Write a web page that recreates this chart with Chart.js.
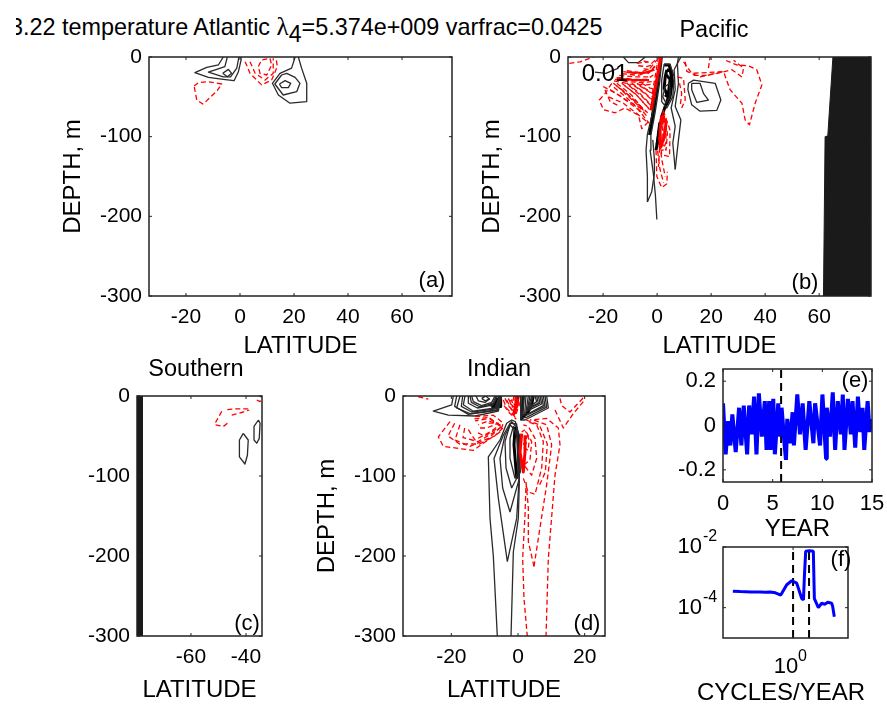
<!DOCTYPE html>
<html>
<head>
<meta charset="utf-8">
<title>EOF 4 temperature</title>
<script src="https://cdn.jsdelivr.net/npm/chart.js@4"></script>
<style>
  html, body { margin: 0; background: #fff; overflow: hidden; }
  #page { position: relative; width: 887px; height: 711px; overflow: hidden; }
  canvas { position: absolute; }
  #maintitle { position: absolute; left: 16px; top: 10px; width: 600px; height: 44px; overflow: hidden; white-space: nowrap;
    font: 23.4px "Liberation Sans", Arial, sans-serif; color: #000; }
  #maintitle .inner { position: absolute; left: -6px; top: 3px; }
  #maintitle .sym { font-family: "Liberation Serif", serif; font-size: 25px; }
  #maintitle sub { font-size: 23px; line-height: 0; vertical-align: -7px; }
</style>
</head>
<body>
<div id="page">
  <div id="maintitle"><span class="inner">3.22 temperature Atlantic <span class="sym">λ</span><sub>4</sub>=5.374e+009 varfrac=0.0425</span></div>
</div>
<script>
// tick labels
const depthTicks = [0, -100, -200, -300];
const latTicksWide = [-20, 0, 20, 40, 60];
const latTicksSouth = [-60, -40];
const latTicksIndian = [-20, 0, 20];
const yearTicks = [0, 5, 10, 15];
const pcTicks = [-0.2, 0, 0.2];
const freqTicks = [1];
const specTicks = [1e-2, 1e-4];

// (a) Atlantic contours, [latitude, depth]
const atlBlack = [
  [[-6.2,0],[-8,-10],[-12.3,-13],[-16.7,-19.7],[-11.7,-25.5],[-6.2,-28],[-2.2,-29.7],[-0.6,-18.4],[0.4,-3.8],[0.4,0]],
  [[-4.7,0],[-5.6,-12],[-11.7,-19],[-6.2,-25],[-3.5,-25],[-1.2,-14],[-0.4,0]],
  [[-6.4,-20.5],[-4.3,-15.5],[-3.1,-20.5],[-4.7,-24.7],[-6.4,-20.5]],
  [[20.4,0],[19.1,-14],[14.8,-20.5],[12,-33],[14.2,-47.7],[18.5,-58],[24.7,-56],[24.7,-33],[22.8,-14],[21.6,0]],
  [[15.4,-22.6],[12.9,-33.9],[16,-47.7],[21,-43.5],[22.2,-33],[20.4,-25.5],[17.3,-20.5],[15.4,-22.6]],
  [[14.6,-33.9],[16.7,-29.7],[18.8,-33],[17.9,-38.5],[15.4,-38.5],[14.6,-33.9]]
];
const atlRed = [
  [[-17,-36.4],[-15.4,-32.2],[-11.7,-31],[-6.8,-33.9],[-8.4,-42],[-12.3,-54.8],[-13.8,-59],[-16,-54],[-17,-36.4]],
  [[1.9,-5.9],[3.7,-20.5],[8,-35],[11.7,-29],[13.8,-12],[13.3,0]],
  [[3.7,-6],[5.6,-20.5],[9.3,-29],[12.3,-20.5],[12.3,-1.7]],
  [[6.8,-12],[8,-3.8],[11.1,-1.7],[11.7,-10],[9.9,-22.6],[7.4,-20.5],[6.8,-12]]
];

// (b) Pacific contours
const pacLand = [[65.1,0],[63.5,-83],[63.2,-99],[62.2,-100],[61.6,-300],[80,-300],[80,0]];
const pacBlack = [
  [[-12.5,0],[-10.6,-7],[-6.9,-7],[-4.4,0]],
  [[-23,-19],[-19,-20.5],[-14.3,-14]],
  [[-0.1,-204],[-0.6,-175],[-1.4,-146],[-2.6,-117],[-2.3,-98],[-0.7,-69],[0.9,-33],[1.9,0]],
  [[-3.6,-182],[-3.6,-150],[-4.1,-117],[-3.6,-97],[-1.6,-69],[0.5,-29],[1.5,0]],
  [[-3.6,-182],[-2,-169],[-1,-146],[-1,-129],[-1.6,-104]],
  [[6.7,-141],[5.8,-108],[6.7,-87],[5.2,-64],[6.7,-41],[6.3,-16],[8.8,0]],
  [[6.7,-141],[7.9,-104],[8.8,-79],[6.7,-62],[7.9,-33],[7.5,-8],[7.9,0]],
  [[2.6,-9],[4.8,-9],[6.3,-25],[5.8,-50],[3.6,-64],[1.7,-56],[1.7,-29],[2.6,-9]],
  [[3,-37],[4.6,-33],[4.8,-50],[3.3,-58],[2.1,-50],[3,-37]],
  [[11.6,-33],[13.5,-29],[21.5,-33],[23.6,-54],[22.1,-67],[15.9,-68],[12.8,-60],[11.4,-41],[11.6,-33]],
  [[12.8,-33],[15.9,-33],[17.2,-46],[19,-54],[14.7,-57],[12.8,-41],[12.8,-33]]
];
const pacBlackHeavy = [
  [[1.4,0],[-0.1,-41],[-2.8,-98]],
  [[5.8,-29],[3.8,-54],[1.7,-75],[-0.4,-117]],
  [[3.6,-16],[5.2,-18],[5.4,-35],[3.8,-48],[2.6,-39],[3,-25],[3.6,-16]],
  [[2.6,-10],[4.5,-10],[5.6,-30],[4.8,-50],[3.4,-60]],
  [[3.2,-22],[4.8,-28],[4.2,-45],[3,-50]],
  [[0.2,-28],[-0.8,-55],[-2.2,-85]],
  [[1,-82],[0,-110]]
];
const pacRed = [
  [[-32.5,-8],[-28.5,-6],[-23.6,0]],
  [[-16.8,-33],[-19.3,-46],[-21.4,-54],[-19.9,-66],[-15.6,-70],[-11.9,-64],[-6.9,-73],[-5.7,-90],[-2.6,-79]],
  [[-15.6,-28],[-11.2,-31],[-5.1,-32],[-2,-31]],
  [[-14.3,-25.5],[-9.4,-28],[-3.8,-28],[-1.4,-22.6]],
  [[-12.5,-18.4],[-8.1,-20.5],[-3.2,-20.5],[-0.7,-12]],
  [[-11.2,-17],[-6.3,-19.7],[-2.6,-14],[-0.1,-4]],
  [[-16.2,-33],[-11.2,-46],[-5.7,-64]],
  [[-14.9,-33],[-9.4,-48],[-4.4,-69]],
  [[-13.1,-33],[-8.1,-46],[-3.2,-64]],
  [[-11.2,-33],[-6.3,-46],[-2.3,-60]],
  [[-9.4,-33],[-5.1,-43.5],[-1.6,-54]],
  [[-7.5,-33],[-3.8,-41],[-0.7,-48]],
  [[-5.7,-33],[-2.6,-39],[-0.4,-41]],
  [[-18,-50],[-12.5,-58],[-7.5,-71],[-3.8,-81]],
  [[-19.3,-41],[-17.4,-56],[-13.7,-62]],
  [[-17.4,-41],[-11.9,-53],[-6.3,-64],[-3.6,-75]],
  [[-15,-36],[-10.5,-50],[-5,-67]],
  [[-12,-36],[-7.5,-48],[-2.8,-66]],
  [[-10.3,-36],[-5.5,-50],[-2,-62]],
  [[-8.5,-36],[-4.5,-46],[-1.2,-56]],
  [[-6.5,-36],[-3.2,-43],[-0.5,-50]],
  [[-16,-38],[-11,-52],[-5,-72]],
  [[-13.5,-40],[-8.8,-53],[-3.5,-70]],
  [[-20,-37],[-14,-48],[-7,-66],[-3,-83]],
  [[-14,-23],[-8,-25],[-2.8,-25]],
  [[-13,-21],[-7,-23],[-2,-18]],
  [[-15,-26],[-9,-30],[-3,-30]],
  [[-16,-30],[-10,-34],[-4,-35],[-1,-34]],
  [[-7,-11],[-4,-12],[-1.5,-10]],
  [[-5,-5],[-2,-8],[0,-2]],
  [[-5,-15],[-2,-16],[0,-8]],
  [[0.5,0],[-2,-50]],
  [[-7.5,-8],[-3.2,-6]],
  [[2.3,-67],[4.8,-92],[4.6,-125],[1.7,-123],[0.9,-96],[2.3,-67]],
  [[2.6,-73],[3.8,-96],[3.3,-117],[1.7,-108],[2.1,-87],[2.6,-73]],
  [[1.5,-78],[3.4,-90],[3.2,-108],[2,-118]],
  [[1.8,-80],[2.8,-95],[2.4,-110]],
  [[0.6,-100],[1.8,-130],[3,-150]],
  [[0.2,-118],[1,-140],[2.4,-158]],
  [[-0.4,-117],[-0.1,-150],[1.7,-164],[3.6,-159],[3.8,-144]],
  [[1.1,-104],[0.5,-138]],
  [[10.4,-6],[11,-18],[15.9,-25],[22.1,-20.5],[27.7,-16],[31.4,-25],[32,-14],[28.3,-4]],
  [[19,-14],[19.6,0]],
  [[9.8,-6],[12.8,-20.5],[24.6,-18.4],[27,-41],[31.4,-58],[32.6,-79],[34.2,-85],[36.3,-58],[38.8,-35],[36.9,-16],[33.8,-11],[29.5,-10],[25.2,-4]],
  [[7.5,-25],[9.8,-27],[10.4,-54],[9.1,-64]],
  [[8.3,-33],[9.1,-46],[8.6,-60]],
  [[13.5,-23],[18.4,-23],[24.6,-18.4]]
];
const pacRedMid = [
  [[-15,-27],[-9,-29],[-3,-29]],
  [[-11,-19],[-5,-20],[-1,-16]]
];
const pacRedHeavy = [
  [[1.4,0],[-0.4,-33],[-2.3,-67]],
  [[1.7,-73],[3.3,-83],[2.6,-100],[1.4,-113],[1.1,-92],[1.7,-73]]
];

// (c) Southern contours
const souLand = [[-80,0],[-77.6,0],[-77.6,-300],[-80,-300]];
const souBlack = [
  [[-41,-46.7],[-42.4,-55],[-42.4,-76],[-40.4,-85],[-39.5,-74],[-39.2,-55],[-41,-46.7]],
  [[-35.5,-30],[-37.1,-38],[-37.1,-55],[-36.1,-59],[-35.2,-53],[-34.9,-34],[-35.5,-30]]
];
const souRed = [
  [[-48.8,-19],[-50.9,-32],[-51.3,-36],[-48.2,-38],[-46,-32]],
  [[-46.8,-17],[-43.4,-16],[-39.2,-16]],
  [[-45.2,-24],[-41,-20],[-38.8,-17.5]],
  [[-36.1,-5],[-34.9,-7],[-34.5,0]]
];

// (d) Indian contours
const indBlack = [
  [[-6.2,-301],[-7.4,-200],[-8.4,-153],[-8.9,-76],[-5.4,-55],[-3.4,-34],[-1.9,-30],[-0.8,-32],[0.4,-50],[0.4,-107],[0.1,-153],[-1.4,-195],[-2.1,-301]],
  [[-3.2,-207],[-5.9,-128],[-7.2,-78],[-4.4,-49],[-2.4,-34],[-0.4,-35],[0.4,-99],[-0.4,-153],[-3.2,-207]],
  [[-2.4,-145],[-4.6,-115],[-5.4,-78],[-3.9,-49],[-1.9,-32],[-0.2,-40],[0.4,-103],[-2.4,-145]],
  [[-1.9,-115],[-3.6,-90],[-3.9,-57],[-2.4,-36],[-0.4,-45],[0.1,-99],[-1.9,-115]],
  [[-0.9,-103],[-2.4,-78],[-2.4,-53],[-1.4,-38],[-0.2,-53],[0.1,-95],[-0.9,-103]],
  [[-19.4,0],[-19.9,-11],[-25.4,-19],[-20.9,-24],[-12.9,-25],[-5.9,-19],[-4.9,0]],
  [[-18.4,0],[-19,-13],[-14.9,-23],[-6.2,-18],[-5,0]],
  [[-17.4,0],[-18.4,-15],[-14.4,-22],[-6.4,-17.5],[-5.2,0]],
  [[-16.6,0],[-17,-13],[-13.9,-20],[-6.6,-16],[-5.4,0]],
  [[-15.9,0],[-16.4,-11],[-13.4,-19],[-6.9,-15],[-5.6,0]],
  [[-14.9,0],[-14.9,-9],[-12.2,-15],[-7.4,-11],[-6.2,0]],
  [[-14.4,0],[-14,-8],[-11.5,-13.5],[-7.6,-9.5],[-6.5,0]],
  [[-13.9,0],[-13.4,-7],[-10.9,-12],[-7.9,-8],[-6.9,0]],
  [[-12.6,0],[-11.9,-6],[-9.9,-8],[-8.4,-3]],
  [[-10.9,-3],[-9.6,0],[-8.6,-4],[-9.9,-6],[-10.9,-3]],
  [[0.8,0],[0.8,-30],[2.1,-30],[9.1,-15],[8.6,0]],
  [[1.2,0],[1.1,-27],[2.4,-27],[8.6,-14],[8.1,0]],
  [[1.8,0],[1.4,-24],[2.6,-24],[8.1,-13],[7.6,0]],
  [[2.4,0],[2,-22],[3.2,-22],[7.6,-12],[7.1,0]],
  [[3.1,0],[2.4,-19.5],[7.1,-10],[6.6,0]],
  [[3.6,0],[2.8,-17],[6.6,-9],[6.1,0]],
  [[4.1,0],[3.1,-15],[6.1,-9],[5.6,0]],
  [[4.6,0],[3.6,-13],[5.6,-7],[5.1,0]]
];
const indBlackHeavy = [
  [[-0.4,-103],[-1.2,-61],[-0.9,-40],[0.1,-49],[0.4,-95],[-0.4,-103]],
  [[-8.4,-11],[-5.4,-13],[-5.2,-3]],
  [[-8,-14],[-6,-14],[-5.4,-8],[-5.6,0]],
  [[-7.5,-12],[-6.5,-8],[-6.2,-2]],
  [[1.6,0],[1.1,-28],[3.1,-19.5],[4.1,-11],[4.6,0]]
];
const indRed = [
  [[-29.9,-1],[-26.9,-4]],
  [[-4.4,-5],[-3.4,-15.5],[-0.9,-26],[0.4,-11],[0.1,0]],
  [[-3.9,-3],[-2.7,-13],[-0.8,-22],[0.2,-8]],
  [[-3.4,-5],[-1.9,-17.5],[-0.4,-17.5],[-0.9,-3]],
  [[-2.9,-3],[-1.6,-14],[-0.5,-12],[-0.7,-2]],
  [[-4.2,-12],[-2.4,-22],[-0.5,-29]],
  [[-1.2,0],[-1.6,-8],[-0.3,-14],[0.2,-3]],
  [[-2.4,-9],[-1.4,-13],[-1.9,-5],[-2.6,-7]],
  [[-20.4,-32],[-23.9,-51],[-22.4,-63],[-13.4,-68],[-10.4,-59],[-5.4,-45],[-4.4,-34],[-7.4,-24],[-13.4,-26]],
  [[-19,-34],[-21,-50],[-17.5,-60],[-11.5,-60],[-7,-50],[-4.5,-40],[-9,-27],[-14,-29]],
  [[-17.4,-36],[-18.9,-55],[-14.4,-63],[-8.9,-53],[-4.9,-38],[-8.4,-28],[-12.9,-31]],
  [[-16,-40],[-16.5,-52],[-12,-57],[-7.5,-46],[-4.5,-37]],
  [[-14.9,-42],[-12.9,-55],[-8.4,-45],[-5.4,-36],[-8.9,-31],[-11.9,-36]],
  [[-12,-46],[-10,-50],[-6,-40]],
  [[-11.4,-40],[-9.4,-40],[-5.9,-34],[-8.9,-34]],
  [[8.4,-301],[9.1,-203],[11.1,-99],[12.6,-61],[12.1,-40],[8.6,-28],[3.6,-30]],
  [[2.8,-301],[1.8,-253],[1.4,-203],[2.1,-149],[2.4,-111]],
  [[4.8,-213],[3.1,-182],[3.1,-140],[2.4,-107]],
  [[4.8,-213],[6.1,-178],[8.6,-111],[10.1,-61],[8.6,-36],[4.6,-30]],
  [[1.6,-103],[3.1,-120],[5.1,-123],[7.1,-90],[7.6,-57],[5.6,-36],[2.6,-32]],
  [[2.1,-88],[4.1,-99],[5.6,-78],[5.1,-53],[3.1,-38],[1.6,-36]],
  [[2.4,-30],[6.4,-36],[8.8,-60],[8.2,-95],[6.4,-112]],
  [[1.8,-86],[3.6,-80],[4.1,-57],[2.1,-42],[1.1,-45]],
  [[1.8,-64],[3,-68],[3.4,-55],[2.2,-44]],
  [[1.5,-60],[2.4,-60],[2.6,-50]],
  [[12.6,-3],[13.1,-12],[15.6,-20],[17.6,-11],[20.1,0]],
  [[11.1,-17.5],[13.6,-40],[16.6,-22],[19.6,-7]]
];
const indRedHeavy = [
  [[-0.4,0],[-0.6,-11],[-1.4,-24]],
  [[0.1,0],[-0.3,-10],[-1,-20]],
  [[1.1,-47],[0.6,-70],[1.6,-95],[2.1,-70],[2.1,-49]]
];

// (e) principal component
const pcYears = [0,.27,.51,.74,.94,1.28,1.62,1.85,2.09,2.43,2.63,2.9,3.13,3.37,3.61,3.91,4.21,4.38,4.65,4.79,5.06,5.22,5.56,5.76,5.9,6.13,6.34,6.47,6.74,7.01,7.14,7.48,7.75,8.02,8.32,8.69,9.1,9.27,9.77,10.01,10.38,10.45,10.78,11.05,11.29,11.56,11.86,12.06,12.23,12.57,12.87,13.04,13.31,13.58,13.82,14.05,14.22,14.56,14.76,14.9];
const pcValues = [.10,-.13,.02,-.09,.05,-.12,.08,-.09,.09,-.13,.09,-.04,.13,-.13,.145,-.05,.11,-.11,.11,-.11,.12,-.13,.10,-.05,.08,-.05,-.155,.03,-.08,.06,-.09,.14,-.04,.10,-.11,.11,-.08,.10,-.09,.14,-.15,.08,-.05,.15,-.11,.11,-.04,.14,-.11,.12,-.04,.11,-.10,.13,-.03,.08,-.11,.11,-.03,.03];
const pcEvent = 5.85;

// (f) power spectrum
const specFreq = [0.0656,0.0914,0.15,0.225,0.29,0.354,0.45,0.573,0.751,0.942,1.18,1.48,1.6,1.67,1.77,2.1,2.5,2.62,3.14,3.65,4.2,4.8,5.73,6.0,6.46];
const specPower = [3.5e-4,3.4e-4,3.3e-4,3.3e-4,3.2e-4,3.3e-4,3.1e-4,2.6e-4,5.7e-4,7.7e-4,6.4e-4,2e-4,1.8e-4,1.1e-3,7.2e-3,7.5e-3,7.2e-3,2e-4,1e-4,1.4e-4,1.3e-4,1.5e-4,1.4e-4,1.1e-4,5e-5];
const specEvents = [1, 2.06];

const FONT = '"Liberation Sans", Arial, sans-serif';
Chart.defaults.font.family = FONT;
Chart.defaults.color = '#000';

// frame, inward ticks and free text
const decoPlugin = {
  id: 'deco',
  afterDatasetsDraw(chart, args, opts) {
    const { ctx, chartArea: a, scales: { x, y } } = chart;
    ctx.save();
    ctx.strokeStyle = '#222';
    ctx.lineWidth = 1.5;
    ctx.strokeRect(a.left, a.top, a.right - a.left, a.bottom - a.top);
    ctx.lineWidth = 1;
    ctx.beginPath();
    x.ticks.forEach(t => {
      const p = x.getPixelForValue(t.value);
      ctx.moveTo(p, a.bottom); ctx.lineTo(p, a.bottom - 3);
      ctx.moveTo(p, a.top); ctx.lineTo(p, a.top + 3);
    });
    y.ticks.forEach(t => {
      const p = y.getPixelForValue(t.value);
      ctx.moveTo(a.left, p); ctx.lineTo(a.left + 3, p);
      ctx.moveTo(a.right, p); ctx.lineTo(a.right - 3, p);
    });
    ctx.stroke();
    ctx.restore();
  },
  afterDraw(chart, args, opts) {
    const { ctx } = chart;
    const box = chart.canvas.getBoundingClientRect();
    ctx.save();
    ctx.fillStyle = '#000';
    ctx.textBaseline = 'middle';
    (opts.texts || []).forEach(t => {
      ctx.font = (t.size || 23.5) + 'px ' + FONT;
      ctx.textAlign = t.align || 'center';
      ctx.fillText(t.text, t.x - box.left, t.y - box.top);
    });
    ctx.restore();
  }
};
Chart.register(decoPlugin);

const toXY = pts => pts.map(p => ({ x: p[0], y: p[1] }));

function lines(list, color, width, dash) {
  return list.map(pts => ({
    data: toXY(pts), borderColor: color, borderWidth: width, borderDash: dash || [],
    borderJoinStyle: 'round', showLine: true, pointRadius: 0, fill: false, tension: 0
  }));
}

function land(pts) {
  return { data: toXY(pts), borderColor: '#1a1a1a', borderWidth: 1, backgroundColor: '#1a1a1a', showLine: true, pointRadius: 0, fill: 'shape' };
}

function blueLine(data, width) {
  return { data, borderColor: '#0000ff', borderWidth: width, borderJoinStyle: 'bevel', showLine: true, pointRadius: 0 };
}

const MARGIN = { left: 100, top: 40, right: 30, bottom: 75 };

function panel(p) {
  const canvas = document.createElement('canvas');
  canvas.width = MARGIN.left + p.w + MARGIN.right;
  canvas.height = MARGIN.top + p.h + MARGIN.bottom;
  canvas.style.left = (p.left - MARGIN.left) + 'px';
  canvas.style.top = (p.top - MARGIN.top) + 'px';
  document.getElementById('page').appendChild(canvas);

  new Chart(canvas.getContext('2d'), {
    type: 'scatter',
    data: { datasets: p.datasets },
    options: {
      responsive: false,
      animation: false,
      layout: { padding: { top: MARGIN.top, right: MARGIN.right } },
      plugins: { legend: { display: false }, tooltip: { enabled: false }, deco: { texts: p.texts } },
      scales: {
        x: {
          type: p.xLog ? 'logarithmic' : 'linear',
          min: p.xRange[0], max: p.xRange[1],
          grid: { display: false, drawTicks: false }, border: { display: false },
          afterBuildTicks: s => { s.ticks = p.xTicks.map(value => ({ value })); },
          afterFit: s => { s.height = MARGIN.bottom; },
          ticks: {
            autoSkip: false, maxRotation: 0, padding: p.xTickPad || 9, labelOffset: p.xLog ? -7 : 0,
            font: { size: p.tickSize || 21 }, color: '#000',
            callback: v => p.xLog ? '10' : String(v)
          },
          title: { display: !!p.xTitle, text: p.xTitle, color: '#000', font: { size: 24 }, padding: { top: 0, bottom: MARGIN.bottom - p.xTitleAt - 14.4 } }
        },
        y: {
          type: p.yLog ? 'logarithmic' : 'linear',
          min: p.yRange[0], max: p.yRange[1],
          grid: { display: false, drawTicks: false }, border: { display: false },
          afterBuildTicks: s => { s.ticks = p.yTicks.map(value => ({ value })); },
          afterFit: s => { s.width = MARGIN.left; },
          ticks: {
            autoSkip: false, padding: p.yLog ? 21 : 7,
            font: { size: p.tickSize || 21 }, color: '#000',
            callback: v => p.yLog ? '10' : String(v)
          },
          title: { display: !!p.yTitle, text: p.yTitle, color: '#000', font: { size: 24 }, padding: { top: 10, bottom: 0 } }
        }
      }
    }
  });
}

const RED = '#ff0000', RED_DASH = [5, 3], INK = '#2a2a2a', THIN = 1.3;

panel({
  left: 149, top: 57, w: 303, h: 239,
  xRange: [-33.7, 78.5], yRange: [-300, 0], xTicks: latTicksWide, yTicks: depthTicks,
  xTitle: 'LATITUDE', xTitleAt: 50, yTitle: 'DEPTH, m',
  datasets: [...lines(atlBlack, INK, THIN), ...lines(atlRed, RED, THIN, RED_DASH)],
  texts: [{ text: '(a)', x: 432, y: 281, size: 22 }]
});

panel({
  left: 568, top: 57, w: 303, h: 239,
  xRange: [-33, 79.2], yRange: [-300, 0], xTicks: latTicksWide, yTicks: depthTicks,
  xTitle: 'LATITUDE', xTitleAt: 50, yTitle: 'DEPTH, m',
  datasets: [
    land(pacLand),
    ...lines(pacRed, RED, THIN, RED_DASH), ...lines(pacRedMid, RED, 2), ...lines(pacRedHeavy, RED, 3),
    ...lines(pacBlack, INK, THIN), ...lines(pacBlackHeavy, '#000', 3)
  ],
  texts: [{ text: 'Pacific', x: 714, y: 31 }, { text: '0.01', x: 605, y: 74, size: 24 }, { text: '(b)', x: 805, y: 283, size: 22 }]
});

panel({
  left: 137, top: 396, w: 125, h: 240,
  xRange: [-79.6, -34.2], yRange: [-300, 0], xTicks: latTicksSouth, yTicks: depthTicks,
  xTitle: 'LATITUDE', xTitleAt: 54,
  datasets: [land(souLand), ...lines(souBlack, INK, THIN), ...lines(souRed, RED, THIN, RED_DASH)],
  texts: [{ text: 'Southern', x: 196, y: 370 }, { text: '(c)', x: 247, y: 624, size: 22 }]
});

panel({
  left: 403, top: 396, w: 202, h: 240,
  xRange: [-34.5, 26.1], yRange: [-300, 0], xTicks: latTicksIndian, yTicks: depthTicks,
  xTitle: 'LATITUDE', xTitleAt: 54, yTitle: 'DEPTH, m',
  datasets: [
    ...lines(indRed, RED, THIN, RED_DASH), ...lines(indRedHeavy, RED, 3),
    ...lines(indBlack, INK, THIN), ...lines(indBlackHeavy, '#000', 3)
  ],
  texts: [{ text: 'Indian', x: 499, y: 370 }, { text: '(d)', x: 587, y: 624, size: 22 }]
});

panel({
  left: 723, top: 369, w: 149, h: 113,
  xRange: [0, 15], yRange: [-0.255, 0.255], xTicks: yearTicks, yTicks: pcTicks,
  xTitle: 'YEAR', xTitleAt: 47, tickSize: 22,
  datasets: [
    blueLine(pcValues.map((v, i) => ({ x: pcYears[i], y: v })), 4),
    ...lines([[[pcEvent, -0.255], [pcEvent, 0.255]]], '#000', 2, [8, 5])
  ],
  texts: [{ text: '(e)', x: 855, y: 381, size: 22 }]
});

panel({
  left: 723, top: 547, w: 125, h: 91,
  xLog: true, yLog: true, tickSize: 22,
  xRange: [0.042, 12], yRange: [1e-5, 1e-2], xTicks: freqTicks, yTicks: specTicks,
  xTitle: '', xTitleAt: 55, xTickPad: 16,
  datasets: [
    blueLine(specFreq.map((f, i) => ({ x: f, y: specPower[i] })), 3),
    ...lines(specEvents.map(f => [[f, 1e-5], [f, 1e-2]]), '#000', 2, [8, 5])
  ],
  texts: [
    { text: '(f)', x: 841, y: 560, size: 22 },
    { text: '-2', x: 703, y: 537, size: 16, align: 'left' },
    { text: '-4', x: 703, y: 598, size: 16, align: 'left' },
    { text: '0', x: 798, y: 657, size: 16, align: 'left' },
    { text: 'CYCLES/YEAR', x: 781, y: 693, size: 24 }
  ]
});
</script>
</body>
</html>
